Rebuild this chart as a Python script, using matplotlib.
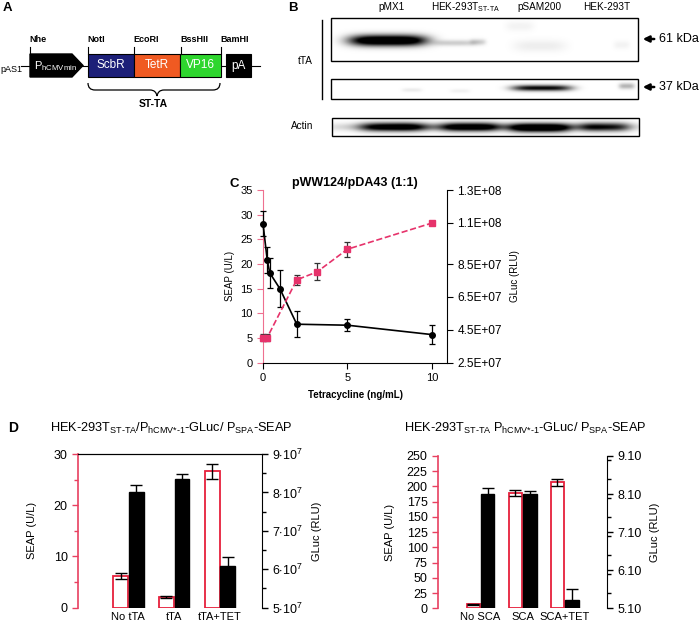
import numpy as np
import matplotlib
matplotlib.use("Agg")
import matplotlib.pyplot as plt
from matplotlib.patches import Rectangle, Polygon, PathPatch
from matplotlib.path import Path
from matplotlib.ticker import FuncFormatter, MultipleLocator

plt.rcParams['font.family'] = ['Liberation Sans', 'DejaVu Sans']
plt.rcParams['mathtext.fontset'] = 'custom'
plt.rcParams['mathtext.rm'] = 'Liberation Sans'
plt.rcParams['mathtext.it'] = 'Liberation Sans'
plt.rcParams['mathtext.bf'] = 'Liberation Sans:bold'

# ---------------- data ----------------
# Panel C
tet_seap = [0, 0.25, 0.4, 1, 2, 5, 10]
seap_c = [28.2, 20.8, 18.2, 15.0, 7.8, 7.6, 5.7]
seap_c_err = [2.6, 2.6, 3.0, 3.8, 2.6, 1.2, 2.0]
tet_gluc = [0, 0.25, 2, 3.2, 5, 10]
gluc_c = [4.03e7, 4.03e7, 7.54e7, 8.02e7, 9.4e7, 1.099e8]
gluc_c_err = [2.4e6, 2.4e6, 3.0e6, 5.2e6, 4.5e6, 0]
gluc_c_ticks = [2.5e7, 4.5e7, 6.5e7, 8.5e7, 1.1e8, 1.3e8]

# Panel D (left)
cats_dl = ["No tTA", "tTA", "tTA+TET"]
seap_dl = [6.25, 2.15, 26.6]
seap_dl_err = [0.6, 0.2, 1.4]
gluc_dl = [8.0e7, 8.34e7, 6.09e7]
gluc_dl_err = [2.0e6, 1.4e6, 2.3e6]

# Panel D (right)
cats_dr = ["No SCA", "SCA", "SCA+TET"]
seap_dr = [6.6, 188.8, 206.9]
seap_dr_err = [1.0, 5.0, 5.5]
gluc_dr = [8.11, 8.11, 5.32]
gluc_dr_err = [0.15, 0.06, 0.28]

# Panel B lanes and bands (x_center, half_width, y_center, y_sigma, intensity)
lanes = ["pMX1", r"HEK-293T$_{\text{ST-TA}}$", "pSAM200", "HEK-293T"]
bands_61 = [(388, 39, 40.5, 5.5, 1.4), (455, 22, 43, 3, 0.2), (478, 8, 42, 3, 0.18),
            (540, 26, 46, 6, 0.07), (520, 14, 26, 5, 0.05), (622, 8, 45, 4, 0.05)]
bands_37 = [(542, 30, 88, 3.0, 1.0), (412, 10, 90, 2, 0.08), (460, 10, 91, 2, 0.06),
            (627, 8, 86, 3, 0.3)]
bands_actin = [(392, 32, 127, 4.5, 0.85), (470, 28, 127, 4.5, 0.8), (540, 30, 128, 4.5, 1.0),
               (605, 25, 127, 4.5, 0.7), (487, 140, 127, 4, 0.5)]

PINK = '#E6336B'
PINK_AX = '#EE7090'
RED = '#E6203C'

fig = plt.figure(figsize=(7.0, 6.24), dpi=100)

# ---------------- overlay for panels A and B ----------------
ov = fig.add_axes([0, 0, 1, 1])
ov.set_xlim(0, 700)
ov.set_ylim(624, 0)
ov.axis('off')

# Panel A
ov.text(3, 8, "A", fontsize=9.5, fontweight='bold', va='center', ha='left')
ov.text(0, 69, "pAS1", fontsize=6.5, va='center', ha='left')
ov.plot([21, 260], [66, 66], color='k', lw=0.8, zorder=1)
ov.add_patch(Polygon([(30, 54), (72, 54), (83, 65.5), (72, 77), (30, 77)], closed=True,
                     fc='k', ec='k', zorder=2))
ov.text(34, 66, r"P$_{\text{hCMVmin}}$", color='white', fontsize=8, va='center', ha='left', zorder=3)
for x0, x1, col, lab in [(88, 134, '#1C1F78', 'ScbR'), (134, 180, '#F05A22', 'TetR'),
                         (180, 221, '#2ED62E', 'VP16'), (226, 251, 'k', 'pA')]:
    ov.add_patch(Rectangle((x0, 54), x1 - x0, 23, fc=col, ec='k', lw=0.8, zorder=2))
    ov.text((x0 + x1) / 2, 65.5, lab, color='white', fontsize=8.5, va='center', ha='center', zorder=3)
for x, lab in [(30, "Nhe"), (88, "NotI"), (134, "EcoRI"), (181, "BssHII"), (221, "BamHI")]:
    ov.plot([x, x], [47, 54], color='k', lw=0.8)
    ov.text(x - 1, 40, lab, fontsize=6.5, fontweight='bold', va='center', ha='left')
verts = [(88, 83), (88, 90), (95, 90), (150, 90), (156, 90), (157, 96), (158, 90), (164, 90),
         (213, 90), (220, 90), (220, 83)]
codes = [Path.MOVETO, Path.CURVE3, Path.CURVE3, Path.LINETO, Path.CURVE3, Path.CURVE3,
         Path.CURVE3, Path.CURVE3, Path.LINETO, Path.CURVE3, Path.CURVE3]
ov.add_patch(PathPatch(Path(verts, codes), fc='none', ec='k', lw=0.9))
ov.text(153, 104, "ST-TA", fontsize=7.5, fontweight='bold', va='center', ha='center')

# Panel B
ov.text(288, 8, "B", fontsize=9.5, fontweight='bold', va='center', ha='left')
for xc, lab in zip([392, 465, 539, 607], lanes):
    ov.text(xc, 7, lab, fontsize=7.2, va='center', ha='center')


def blot(x0, x1, y0, y1, bands):
    W = int((x1 - x0) * 2)
    H = int((y1 - y0) * 2)
    xs = np.linspace(x0, x1, W)
    ys = np.linspace(y0, y1, H)
    X, Y = np.meshgrid(xs, ys)
    D = np.zeros_like(X)
    for cx, hw, cy, sy, a in bands:
        D += a * np.exp(-np.abs((X - cx) / hw) ** 4) * np.exp(-((Y - cy) / sy) ** 2)
    img = 1 - np.clip(D, 0, 1)
    ov.imshow(img, cmap='gray', vmin=0, vmax=1, extent=(x0, x1, y1, y0), aspect='auto',
              interpolation='bilinear', zorder=1)
    ov.add_patch(Rectangle((x0, y0), x1 - x0, y1 - y0, fill=False, lw=1.0, ec='k', zorder=2))


blot(331, 638, 18, 61, bands_61)
blot(331, 638, 79, 99, bands_37)
blot(332, 639, 118, 136, bands_actin)
ov.set_xlim(0, 700)
ov.set_ylim(624, 0)
ov.plot([322, 322], [20, 99], color='k', lw=1)
ov.text(305, 61, "tTA", fontsize=7.2, va='center', ha='center')
ov.text(302, 126, "Actin", fontsize=7.2, va='center', ha='center')
for y, lab in [(39, "61 kDa"), (87, "37 kDa")]:
    ov.annotate("", xy=(640, y), xytext=(657, y),
                arrowprops=dict(arrowstyle='-|>', color='k', lw=1.8, mutation_scale=9))
    ov.text(659, y, lab, fontsize=9, va='center', ha='left')

# ---------------- Panel C ----------------
axC = fig.add_axes([263 / 700, 1 - 362.7 / 624, 184 / 700, 172.7 / 624])
axC2 = axC.twinx()
axC.errorbar(tet_seap, seap_c, yerr=seap_c_err, color='k', marker='o', ms=4, lw=1.2,
             capsize=2.5, elinewidth=0.9, capthick=0.9, clip_on=False, zorder=3)
axC2.errorbar(tet_gluc, gluc_c, yerr=gluc_c_err, color=PINK, ls='--', marker='s', ms=4, lw=1.2,
              ecolor='#333333', capsize=2.5, elinewidth=0.9, capthick=0.9, clip_on=False, zorder=2)
axC.set_xlim(0, 10.9)
axC.set_ylim(0, 35)
axC.set_yticks(range(0, 36, 5))
axC.set_xticks([0, 5, 10])
axC2.set_ylim(2.5e7, 1.3e8 * 1.0001)
axC2.set_yticks(gluc_c_ticks)


def efmt(v, p):
    e = int(np.floor(np.log10(v) + 1e-9))
    return "%.1fE+%02d" % (v / 10 ** e, e)


axC2.yaxis.set_major_formatter(FuncFormatter(efmt))
for a in (axC, axC2):
    a.spines['top'].set_visible(False)
axC.spines['right'].set_visible(False)
axC2.spines['left'].set_visible(False)
axC2.spines['bottom'].set_visible(False)
axC.spines['left'].set_color(PINK_AX)
axC.tick_params(axis='y', colors=PINK_AX, labelcolor='k', labelsize=8, length=4, width=0.8)
axC.tick_params(axis='x', labelsize=8, length=4, width=0.8)
axC2.tick_params(axis='y', labelsize=8.6, length=4, width=0.8)
axC.set_xlabel("Tetracycline (ng/mL)", fontsize=7, fontweight='semibold', labelpad=5)
axC.set_ylabel("SEAP (U/L)", fontsize=7, labelpad=4)
axC2.set_ylabel("GLuc (RLU)", fontsize=7, labelpad=6)
axC.set_title("pWW124/pDA43 (1:1)", fontsize=9, fontweight='bold', pad=3)
fig.text(229 / 700, 1 - 184 / 624, "C", fontsize=9.5, fontweight='bold', va='center')


# ---------------- Panel D ----------------
def barpanel(rect, cats, seap, seap_err, gluc, gluc_err, ylim, yticks, yminor,
             y2lim, y2ticks, y2minor, fmt, xlim, topspine, spine_col):
    ax = fig.add_axes(rect)
    ax2 = ax.twinx()
    x = np.arange(len(cats))
    w = 0.34
    ax.bar(x - w / 2, seap, w * 0.95, yerr=seap_err, color='white', edgecolor=RED, lw=1.3,
           capsize=4, error_kw=dict(elinewidth=1, capthick=1, ecolor='k'), zorder=3)
    ax2.bar(x + w / 2, gluc, w * 0.95, yerr=gluc_err, color='k', edgecolor='k',
            capsize=4, error_kw=dict(elinewidth=1, capthick=1, ecolor='k'), zorder=3)
    ax.set_xlim(*xlim)
    ax.set_ylim(*ylim)
    ax.set_yticks(yticks)
    ax.yaxis.set_minor_locator(MultipleLocator(yminor))
    ax2.set_ylim(*y2lim)
    ax2.set_yticks(y2ticks)
    ax2.yaxis.set_minor_locator(MultipleLocator(y2minor))
    ax2.yaxis.set_major_formatter(FuncFormatter(fmt))
    ax.set_xticks(x)
    ax.set_xticklabels(cats, fontsize=8)
    ax.tick_params(axis='x', length=0, pad=3)
    for a in (ax, ax2):
        a.spines['bottom'].set_visible(False)
        a.spines['top'].set_visible(topspine)
    ax.spines['right'].set_visible(False)
    ax2.spines['left'].set_visible(False)
    ax.spines['left'].set_color(spine_col)
    ax.spines['left'].set_linewidth(1.2)
    ax.tick_params(axis='y', which='both', colors=spine_col, labelcolor='k', labelsize=9,
                   length=4, width=1)
    ax.tick_params(axis='y', which='minor', length=3)
    ax2.tick_params(axis='y', which='both', labelsize=9, length=4, width=1)
    ax2.tick_params(axis='y', which='minor', length=3)
    ax.set_ylabel("SEAP (U/L)", fontsize=8)
    ax2.set_ylabel("GLuc (RLU)", fontsize=8, labelpad=6)
    return ax, ax2


dl_fmt = lambda v, p: r"%d$\cdot$10$^{7}$" % round(v / 1e7)
axDL, axDL2 = barpanel([78 / 700, 1 - 607.7 / 624, 184 / 700, 153.7 / 624], cats_dl,
                       seap_dl, seap_dl_err, gluc_dl, gluc_dl_err,
                       (0, 30), [0, 10, 20, 30], 5,
                       (5e7, 9e7), np.arange(5e7, 9.1e7, 1e7), 0.5e7, dl_fmt,
                       (-1.1, 2.92), True, '#E84060')
axDL.yaxis.labelpad = 12
axDR, axDR2 = barpanel([438 / 700, 1 - 608.3 / 624, 168.7 / 700, 152.3 / 624], cats_dr,
                       seap_dr, seap_dr_err, gluc_dr, gluc_dr_err,
                       (0, 250), list(range(0, 251, 25)), 25,
                       (5.1, 9.1), [5.1, 6.1, 7.1, 8.1, 9.1], 0.5, lambda v, p: "%.2f" % v,
                       (-1.01, 3.0), False, '#E84060')
axDR.yaxis.labelpad = 8

fig.text(8 / 700, 1 - 428 / 624, "D", fontsize=10, fontweight='bold', va='center')
fig.text(50 / 700, 1 - 428 / 624,
         r"HEK-293T$_{\text{ST-TA}}$/P$_{\text{hCMV*-1}}$-GLuc/ P$_{\text{SPA}}$-SEAP",
         fontsize=9.2, va='center', ha='left')
fig.text(525 / 700, 1 - 428 / 624,
         r"HEK-293T$_{\text{ST-TA}}$ P$_{\text{hCMV*-1}}$-GLuc/ P$_{\text{SPA}}$-SEAP",
         fontsize=9.2, va='center', ha='center')

fig.savefig("out.png", dpi=100)
